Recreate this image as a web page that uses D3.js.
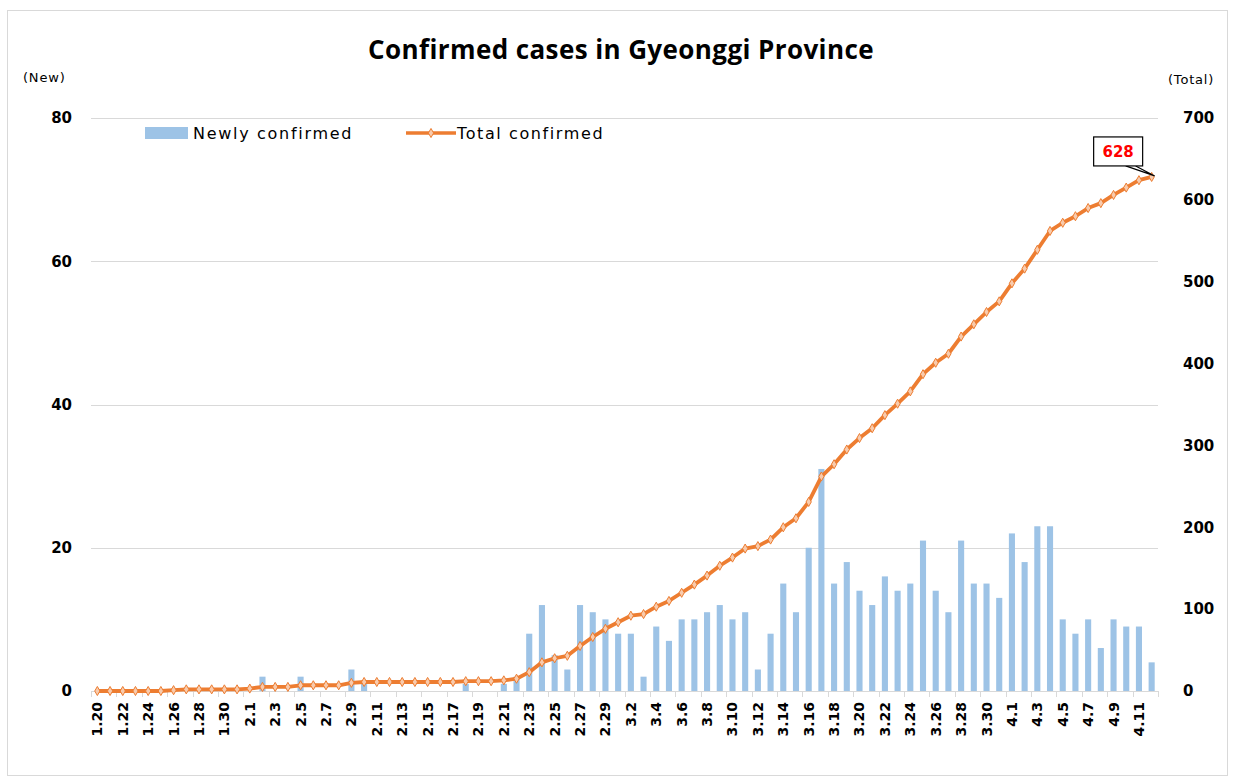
<!DOCTYPE html>
<html>
<head>
<meta charset="utf-8">
<script src="https://cdn.jsdelivr.net/npm/d3@7"></script>
<style>
  body { margin: 0; background: #fff; }
  svg { display: block; }
</style>
</head>
<body>
<svg id="chart" width="1234" height="779"></svg>
<script>
const dates = ["1.20","1.21","1.22","1.23","1.24","1.25","1.26","1.27","1.28","1.29","1.30","1.31",
  "2.1","2.2","2.3","2.4","2.5","2.6","2.7","2.8","2.9","2.10","2.11","2.12","2.13","2.14","2.15",
  "2.16","2.17","2.18","2.19","2.20","2.21","2.22","2.23","2.24","2.25","2.26","2.27","2.28","2.29",
  "3.1","3.2","3.3","3.4","3.5","3.6","3.7","3.8","3.9","3.10","3.11","3.12","3.13","3.14","3.15",
  "3.16","3.17","3.18","3.19","3.20","3.21","3.22","3.23","3.24","3.25","3.26","3.27","3.28","3.29",
  "3.30","3.31","4.1","4.2","4.3","4.4","4.5","4.6","4.7","4.8","4.9","4.10","4.11","4.12"];

const newCases = [0,0,0,0,0,0,0,0,0,0,0,0,
  0,2,0,0,2,0,0,0,3,1,0,0,0,0,0,
  0,0,1,0,0,1,2,8,12,5,3,12,11,10,
  8,8,2,9,7,10,10,11,12,10,11,3,8,15,11,
  20,31,15,18,14,12,16,14,15,21,14,11,21,15,
  15,13,22,18,23,23,10,8,10,6,10,9,9,4];

const totalCases = [0,0,0,0,0,0,1,2,2,2,2,2,
  3,5,5,5,7,7,7,7,10,11,11,11,11,11,11,
  11,11,12,12,12,13,15,23,35,40,43,55,66,76,
  84,92,94,103,110,120,130,141,153,163,174,177,185,200,211,
  231,262,277,295,309,321,337,351,366,387,401,412,433,448,
  463,476,498,516,539,562,572,580,590,596,606,615,624,628];

const leftTicks = [0, 20, 40, 60, 80];
const rightTicks = [0, 100, 200, 300, 400, 500, 600, 700];

const svg = d3.select("#chart");
const pLeft = 91, pRight = 1158, pTop = 118, pBottom = 691;

const x = d3.scaleBand().domain(dates).range([pLeft, pRight]).paddingInner(0.52).paddingOuter(0.26);
const xc = d => x(d) + x.bandwidth() / 2;
const yNew = d3.scaleLinear().domain([0, 80]).range([pBottom, pTop]);
const yTot = d3.scaleLinear().domain([0, 700]).range([pBottom, pTop]);

// chart border
svg.append("rect")
  .attr("x", 7.5).attr("y", 10.5).attr("width", 1220).attr("height", 765)
  .attr("fill", "none").attr("stroke", "#d9d9d9");

// title
svg.append("text")
  .attr("x", 621).attr("y", 59).attr("text-anchor", "middle")
  .style("font-family", "'Open Sans', sans-serif").style("font-weight", "bold")
  .style("font-size", "26px").style("letter-spacing", "0.4px").attr("fill", "#000")
  .text("Confirmed cases in Gyeonggi Province");

// grid lines
svg.append("g").selectAll("line")
  .data(leftTicks.filter(d => d > 0))
  .enter().append("line")
    .attr("x1", pLeft).attr("x2", pRight)
    .attr("y1", d => Math.round(yNew(d)) + 0.5).attr("y2", d => Math.round(yNew(d)) + 0.5)
    .attr("stroke", "#d9d9d9").attr("stroke-width", 1);

// left axis
const yAxisL = svg.append("g")
  .attr("transform", `translate(${pLeft},0)`)
  .call(d3.axisLeft(yNew).tickValues(leftTicks).tickSize(0).tickPadding(19));
yAxisL.select(".domain").remove();
yAxisL.selectAll("text")
  .style("font-family", "'DejaVu Sans', sans-serif").style("font-weight", "bold")
  .style("font-size", "15px").attr("fill", "#000");

// right axis
const yAxisR = svg.append("g")
  .attr("transform", `translate(${pRight},0)`)
  .call(d3.axisRight(yTot).tickValues(rightTicks).tickSize(0).tickPadding(25));
yAxisR.select(".domain").remove();
yAxisR.selectAll("text")
  .style("font-family", "'DejaVu Sans', sans-serif").style("font-weight", "bold")
  .style("font-size", "15px").attr("fill", "#000");

// axis unit labels
svg.append("text").attr("x", 23).attr("y", 82)
  .style("font-family", "'DejaVu Sans', sans-serif").style("font-size", "13px")
  .style("letter-spacing", "0.8px")
  .text("(New)");
svg.append("text").attr("x", 1168).attr("y", 84)
  .style("font-family", "'DejaVu Sans', sans-serif").style("font-size", "13px")
  .style("letter-spacing", "0.8px")
  .text("(Total)");

// bars
svg.append("g").selectAll("rect")
  .data(newCases)
  .enter().append("rect")
    .attr("x", (d, i) => x(dates[i]))
    .attr("width", x.bandwidth())
    .attr("y", d => yNew(d))
    .attr("height", d => pBottom - yNew(d))
    .attr("fill", "#9dc3e6");

// baseline and ticks every two categories
svg.append("line")
  .attr("x1", pLeft).attr("x2", pRight).attr("y1", pBottom + 0.5).attr("y2", pBottom + 0.5)
  .attr("stroke", "#d9d9d9");
const step = x.step();
svg.append("g").selectAll("line")
  .data(d3.range(0, dates.length + 1, 2))
  .enter().append("line")
    .attr("x1", i => Math.round(pLeft + i * step) + 0.5)
    .attr("x2", i => Math.round(pLeft + i * step) + 0.5)
    .attr("y1", pBottom).attr("y2", pBottom + 6)
    .attr("stroke", "#d9d9d9");

// x labels, every other date, rotated
svg.append("g").selectAll("text")
  .data(dates.filter((d, i) => i % 2 === 0))
  .enter().append("text")
    .attr("transform", d => `translate(${xc(d) + 5},${pBottom + 11}) rotate(-90)`)
    .attr("text-anchor", "end")
    .style("font-family", "'DejaVu Sans', sans-serif").style("font-weight", "bold")
    .style("font-size", "14px").attr("fill", "#000")
    .text(d => d);

// total line
const line = d3.line()
  .x((d, i) => xc(dates[i]))
  .y(d => yTot(d));

svg.append("path")
  .datum(totalCases)
  .attr("d", line)
  .attr("fill", "none")
  .attr("stroke", "#ed7d31")
  .attr("stroke-width", 3.8)
  .attr("stroke-linejoin", "round");

const diamond = d3.symbol().type(d3.symbolDiamond).size(24);
svg.append("g").selectAll("path")
  .data(totalCases)
  .enter().append("path")
    .attr("transform", (d, i) => `translate(${xc(dates[i])},${yTot(d)})`)
    .attr("d", diamond)
    .attr("fill", "#f8cbad")
    .attr("stroke", "#ed7d31")
    .attr("stroke-width", 1);

// legend
svg.append("rect").attr("x", 145).attr("y", 127).attr("width", 43).attr("height", 12)
  .attr("fill", "#9dc3e6");
svg.append("text").attr("x", 193).attr("y", 139)
  .style("font-family", "'DejaVu Sans', sans-serif").style("font-size", "16px")
  .style("letter-spacing", "1.7px")
  .text("Newly confirmed");
svg.append("line").attr("x1", 406).attr("x2", 456).attr("y1", 133).attr("y2", 133)
  .attr("stroke", "#ed7d31").attr("stroke-width", 3.5);
svg.append("path").attr("transform", "translate(431,133)").attr("d", diamond)
  .attr("fill", "#f8cbad").attr("stroke", "#ed7d31");
svg.append("text").attr("x", 457).attr("y", 139)
  .style("font-family", "'DejaVu Sans', sans-serif").style("font-size", "16px")
  .style("letter-spacing", "1.6px")
  .text("Total confirmed");

// callout for last total
const lastX = xc(dates[dates.length - 1]);
const lastY = yTot(totalCases[totalCases.length - 1]);
const bx = lastX - 58, by = lastY - 40;
svg.append("path")
  .attr("d", `M${bx + 32},${by + 29} L${lastX + 3},${lastY - 1} L${bx + 42},${by + 29}`)
  .attr("fill", "#fff").attr("stroke", "#000").attr("stroke-width", 1.2);
svg.append("rect")
  .attr("x", bx).attr("y", by).attr("width", 49).attr("height", 29)
  .attr("fill", "#fff").attr("stroke", "#000").attr("stroke-width", 1.2);
svg.append("text")
  .attr("x", bx + 24.5).attr("y", by + 20).attr("text-anchor", "middle")
  .style("font-family", "'DejaVu Sans', sans-serif").style("font-weight", "bold")
  .style("font-size", "15px").attr("fill", "#ff0000")
  .text(totalCases[totalCases.length - 1]);
</script>
</body>
</html>
